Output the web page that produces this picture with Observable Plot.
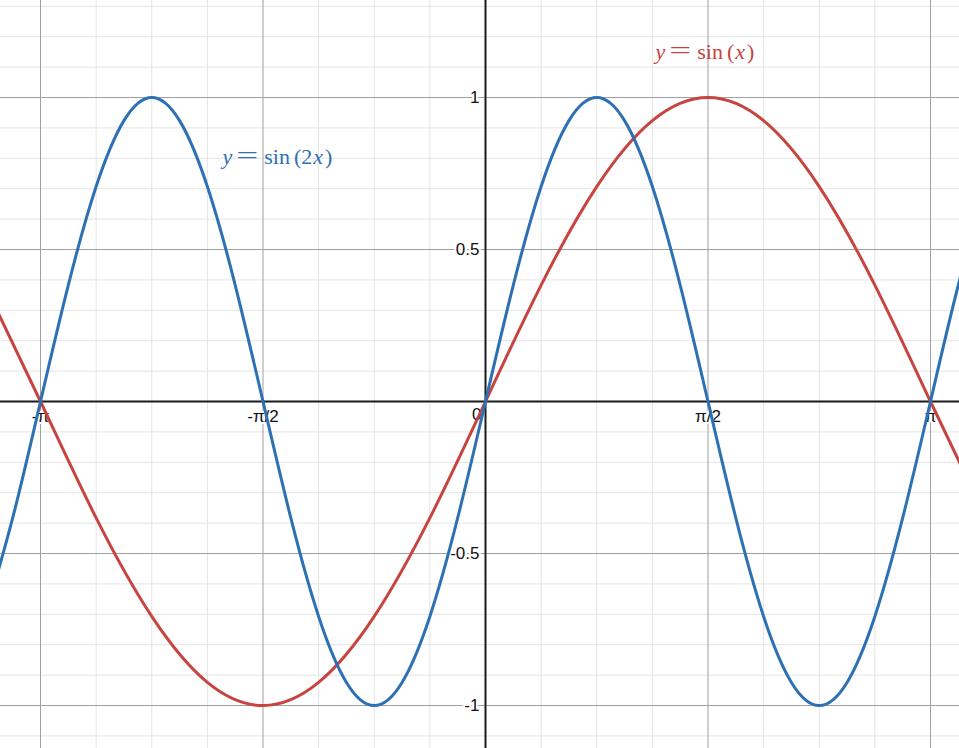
<!DOCTYPE html>
<html><head><meta charset="utf-8">
<script src="https://cdn.jsdelivr.net/npm/d3@7"></script>
<script src="https://cdn.jsdelivr.net/npm/@observablehq/plot@0.6"></script>
<style>body{margin:0;background:#fff;overflow:hidden}</style>
</head><body><div id="chart"></div>
<script>
// x values are in units of π
const xMajorTicks = [-1, -0.5, 0, 0.5, 1];
const xTickLabels = ["-π", "-π/2", "0", "π/2", "π"];
const xMinorTicks = [-1.125, -0.875, -0.75, -0.625, -0.375, -0.25, -0.125, 0.125, 0.25, 0.375, 0.625, 0.75, 0.875];
const yMajorTicks = [-1, -0.5, 0.5, 1];
const yTickLabels = ["-1", "-0.5", "0.5", "1"];
const yMinorTicks = [-1.1, -0.9, -0.8, -0.7, -0.6, -0.4, -0.3, -0.2, -0.1, 0.1, 0.2, 0.3, 0.4, 0.6, 0.7, 0.8, 0.9, 1.1, 1.2, 1.3];

// y = sin(x), sampled every π/8
const sinXPos = [-1.125, -1, -0.875, -0.75, -0.625, -0.5, -0.375, -0.25, -0.125, 0, 0.125, 0.25, 0.375, 0.5, 0.625, 0.75, 0.875, 1, 1.125];
const sinXVal = [0.383, 0, -0.383, -0.707, -0.924, -1, -0.924, -0.707, -0.383, 0, 0.383, 0.707, 0.924, 1, 0.924, 0.707, 0.383, 0, -0.383];

// y = sin(2x), sampled every π/16
const sin2XPos = [-1.125, -1.0625, -1, -0.9375, -0.875, -0.8125, -0.75, -0.6875, -0.625, -0.5625, -0.5, -0.4375, -0.375, -0.3125, -0.25, -0.1875, -0.125, -0.0625, 0, 0.0625, 0.125, 0.1875, 0.25, 0.3125, 0.375, 0.4375, 0.5, 0.5625, 0.625, 0.6875, 0.75, 0.8125, 0.875, 0.9375, 1, 1.0625, 1.125];
const sin2XVal = [-0.707, -0.383, 0, 0.383, 0.707, 0.924, 1, 0.924, 0.707, 0.383, 0, -0.383, -0.707, -0.924, -1, -0.924, -0.707, -0.383, 0, 0.383, 0.707, 0.924, 1, 0.924, 0.707, 0.383, 0, -0.383, -0.707, -0.924, -1, -0.924, -0.707, -0.383, 0, 0.383, 0.707];

const equationLabels = ["y = sin (x)", "y = sin (2x)"];
const equationX = [0.382, -0.591];
const equationY = [1.128, 0.78];
const red = "#c74440", blue = "#2d70b3";
const equationColors = [red, blue];

const sinXData = sinXPos.map((x, i) => ({x, y: sinXVal[i]}));
const sin2XData = sin2XPos.map((x, i) => ({x, y: sin2XVal[i]}));
const xLabelData = xMajorTicks.map((x, i) => ({x, label: xTickLabels[i]})).filter(d => d.x !== 0);
const yLabelData = yMajorTicks.map((y, i) => ({y, label: yTickLabels[i]}));
const eqData = equationLabels.map((t, i) => ({t, x: equationX[i], y: equationY[i], c: equationColors[i]}));

const labelFont = "Liberation Sans, Arial, sans-serif";
const fs = 17;

const chart = Plot.plot({
  width: 959,
  height: 748,
  margin: 0,
  x: {domain: [-1.0899, 1.0652], axis: null},
  y: {domain: [-1.1414, 1.3191], axis: null},
  style: {background: "#fff"},
  marks: [
    Plot.ruleX(xMinorTicks, {stroke: "#e4e4e4", strokeWidth: 1}),
    Plot.ruleY(yMinorTicks, {stroke: "#e4e4e4", strokeWidth: 1}),
    Plot.ruleX(xMajorTicks.filter(d => d !== 0), {stroke: "#a0a0a0", strokeWidth: 1}),
    Plot.ruleY(yMajorTicks, {stroke: "#a0a0a0", strokeWidth: 1}),
    Plot.text(xLabelData, {x: "x", y: 0, text: "label", dy: 15, fontSize: fs, fontFamily: labelFont, fill: "#111", stroke: "#fff", strokeWidth: 4}),
    Plot.text(["0"], {x: 0, y: 0, text: d => d, dx: -4, dy: 13, textAnchor: "end", fontSize: fs, fontFamily: labelFont, fill: "#111", stroke: "#fff", strokeWidth: 4}),
    Plot.text(yLabelData, {x: 0, y: "y", text: "label", dx: -6, textAnchor: "end", fontSize: fs, fontFamily: labelFont, fill: "#111", stroke: "#fff", strokeWidth: 4}),
    Plot.ruleX([0], {stroke: "#1a1a1a", strokeWidth: 2}),
    Plot.ruleY([0], {stroke: "#1a1a1a", strokeWidth: 2}),
    Plot.line(sinXData, {x: "x", y: "y", stroke: red, strokeWidth: 3, curve: "natural", clip: true}),
    Plot.line(sin2XData, {x: "x", y: "y", stroke: blue, strokeWidth: 3, curve: "natural", clip: true}),
    Plot.text(eqData, {x: "x", y: "y", text: "t", fill: "c", textAnchor: "start", lineAnchor: "bottom", fontSize: 22, fontFamily: "Liberation Serif, Times New Roman, serif"})
  ]
});
document.getElementById("chart").appendChild(chart);

// Math-style formatting: italic variables, wide "=" as in typeset math
d3.select(chart).selectAll("text").each(function() {
  const t = this.textContent;
  if (!equationLabels.includes(t)) return;
  const m = t.match(/^y = sin \((.*)\)$/);
  const arg = m[1];
  const sel = d3.select(this);
  sel.text("");
  sel.append("tspan").attr("font-style", "italic").text("y");
  sel.append("tspan").attr("dx", 4).attr("font-size", 25)
    .attr("textLength", 22).attr("lengthAdjust", "spacingAndGlyphs").text("=");
  sel.append("tspan").attr("dx", 6).text("sin");
  sel.append("tspan").attr("dx", 4).text("(");
  if (arg.length > 1) sel.append("tspan").text(arg.slice(0, -1));
  sel.append("tspan").attr("dx", 1).attr("font-style", "italic").text(arg.slice(-1));
  sel.append("tspan").attr("dx", 2).text(")");
});
</script>
</body></html>
